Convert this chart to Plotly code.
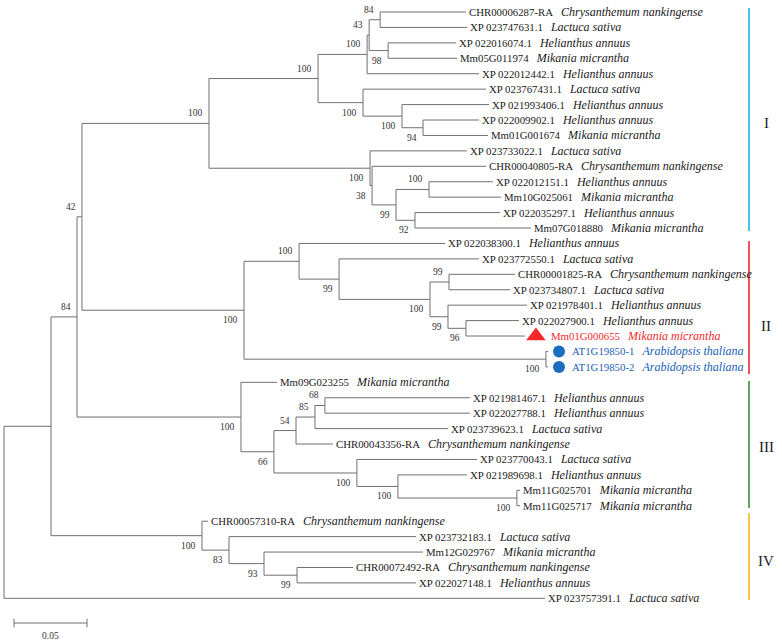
import plotly.graph_objects as go

# ---------------- data ----------------
leaf_ids = [
    "CHR00006287-RA", "XP 023747631.1", "XP 022016074.1", "Mm05G011974", "XP 022012442.1",
    "XP 023767431.1", "XP 021993406.1", "XP 022009902.1", "Mm01G001674", "XP 023733022.1",
    "CHR00040805-RA", "XP 022012151.1", "Mm10G025061", "XP 022035297.1", "Mm07G018880",
    "XP 022038300.1", "XP 023772550.1", "CHR00001825-RA", "XP 023734807.1", "XP 021978401.1",
    "XP 022027900.1", "Mm01G000655", "AT1G19850-1", "AT1G19850-2", "Mm09G023255",
    "XP 021981467.1", "XP 022027788.1", "XP 023739623.1", "CHR00043356-RA", "XP 023770043.1",
    "XP 021989698.1", "Mm11G025701", "Mm11G025717", "CHR00057310-RA", "XP 023732183.1",
    "Mm12G029767", "CHR00072492-RA", "XP 022027148.1", "XP 023757391.1",
]
CN, LS, HA, MM, AT = ("Chrysanthemum nankingense", "Lactuca sativa", "Helianthus annuus",
                      "Mikania micrantha", "Arabidopsis thaliana")
leaf_species = [
    CN, LS, HA, MM, HA, LS, HA, HA, MM, LS,
    CN, HA, MM, HA, MM, HA, LS, CN, LS, HA,
    HA, MM, AT, AT, MM, HA, HA, LS, CN, LS,
    HA, MM, MM, CN, LS, MM, CN, HA, LS,
]
leaf_parent = [
    "A", "A", "C", "C", "D", "F", "G", "H", "H", "J",
    "K", "M", "M", "N", "N", "R", "S", "U", "U", "V",
    "W", "W", "X", "X", "AA", "FF", "FF", "EE", "CC", "DD",
    "GG", "HH", "HH", "II", "JJ", "KK", "LL", "LL", "root",
]
leaf_branch = [
    0.0589, 0.0596, 0.0466, 0.0473, 0.0767, 0.0842, 0.0596, 0.0384, 0.0445, 0.0664,
    0.0781, 0.0438, 0.0493, 0.0582, 0.0795, 0.1000, 0.0959, 0.0452, 0.0418, 0.0541,
    0.0363, 0.0404, 0.0014, 0.0014, 0.0247, 0.0993, 0.0993, 0.0911, 0.0253, 0.0822,
    0.0473, 0.0021, 0.0021, 0.0041, 0.1281, 0.1089, 0.0384, 0.0815, 0.3705,
]

node_names = ["root", "Z", "Q", "O", "I", "E", "D", "B", "A", "C", "F", "G", "H", "J", "K",
              "L", "M", "N", "P", "R", "S", "T", "U", "V", "W", "X", "AA", "BB", "CC", "EE",
              "FF", "DD", "GG", "HH", "II", "JJ", "KK", "LL"]
node_parent = [None, "root", "Z", "Q", "O", "I", "E", "D", "B", "B", "E", "F", "G", "I", "J",
               "K", "L", "L", "O", "P", "R", "S", "T", "T", "V", "P", "Q", "AA", "BB", "CC",
               "EE", "BB", "DD", "GG", "Z", "II", "JJ", "KK"]
node_branch = [0.0, 0.0322, 0.0178, 0.0034, 0.0870, 0.0747, 0.0336, 0.0014, 0.0075, 0.0130,
               0.0308, 0.0267, 0.0144, 0.1103, 0.0014, 0.0164, 0.0226, 0.0130, 0.1110, 0.0377,
               0.0274, 0.0623, 0.0130, 0.0123, 0.0123, 0.2068, 0.1123, 0.0226, 0.0151, 0.0130,
               0.0068, 0.0568, 0.0281, 0.0815, 0.1034, 0.0185, 0.0240, 0.0226]
node_bootstrap = [None, None, 84, 42, 100, 100, 100, 43, 84, 98, 100, 100, 94, 100, 38,
                  99, 100, 92, 100, 100, 99, 100, 99, 99, 96, 100, 100, 66, 54, 85,
                  68, 100, 100, 100, 100, 83, 93, 99]
bootstrap_side = [None, None, "up", "up", "up", "up", "up", "up", "up", "dn", "dn", "dn", "dn",
                  "dn", "dn", "dn", "up", "dn", "dn", "up", "dn", "dn", "up", "dn", "dn", "dn",
                  "dn", "dn", "up", "up", "up", "dn", "dn", "dn", "dn", "dn", "dn", "dn"]

clade_names = ["I", "II", "III", "IV"]
clade_start = [-0.26, 14.84, 23.91, 32.47]
clade_end = [14.19, 23.46, 32.15, 38.10]
clade_label_y = [7.19, 20.35, 28.20, 35.58]
clade_colors = ["#1fb0e6", "#f2262c", "#3a8c3a", "#f7b51c"]

scale_length = 0.05

# ---------------- layout constants ----------------
PX_PER_UNIT = 1460.0
ROW_PX = 15.43
W, H = 782, 642
X0_PX, Y0_PX = 4, 12
LINE_COLOR = "#707070"
RED, BLUE, DOT_BLUE = "#f42a2a", "#2160b3", "#1b6dbd"
FONT = "Liberation Serif, Times New Roman, serif"

def px(p):
    return p / PX_PER_UNIT

# ---------------- tree geometry ----------------
children = {n: [] for n in node_names}
for n, p in zip(node_names, node_parent):
    if p is not None:
        children[p].append(("node", n))
for i, p in enumerate(leaf_parent):
    children[p].append(("leaf", i))

nb = dict(zip(node_names, node_branch))
np_ = dict(zip(node_names, node_parent))
node_x = {}

def nx(n):
    if n not in node_x:
        node_x[n] = 0.0 if np_[n] is None else nx(np_[n]) + nb[n]
    return node_x[n]

for n in node_names:
    nx(n)
leaf_x = [node_x[p] + b for p, b in zip(leaf_parent, leaf_branch)]
leaf_y = list(range(len(leaf_ids)))
node_y = {}

def ny(n):
    if n not in node_y:
        ys = [ny(c) if k == "node" else leaf_y[c] for k, c in children[n]]
        node_y[n] = (min(ys) + max(ys)) / 2
    return node_y[n]

for n in node_names:
    ny(n)

xs, ys = [], []
for n in node_names:
    cy = []
    for k, c in children[n]:
        if k == "node":
            xe, ye = node_x[c], node_y[c]
        else:
            xe, ye = leaf_x[c], leaf_y[c]
        xs += [node_x[n], xe, None]
        ys += [ye, ye, None]
        cy.append(ye)
    xs += [node_x[n], node_x[n], None]
    ys += [min(cy), max(cy), None]

fig = go.Figure()
fig.add_trace(go.Scatter(x=xs, y=ys, mode="lines", line=dict(color=LINE_COLOR, width=1),
                         hoverinfo="skip", showlegend=False))

# markers
tri = [i for i, s in enumerate(leaf_ids) if s == "Mm01G000655"]
dots = [i for i, s in enumerate(leaf_species) if s == AT]
fig.add_trace(go.Scatter(x=[leaf_x[i] + px(11) for i in tri], y=[leaf_y[i] for i in tri],
                         mode="markers", marker=dict(symbol="triangle-up", size=17, color=RED),
                         hoverinfo="skip", showlegend=False))
fig.add_trace(go.Scatter(x=[leaf_x[i] + px(11) for i in dots], y=[leaf_y[i] for i in dots],
                         mode="markers", marker=dict(symbol="circle", size=12, color=DOT_BLUE),
                         hoverinfo="skip", showlegend=False))

ann = []
for i, (lid, sp) in enumerate(zip(leaf_ids, leaf_species)):
    if i in tri:
        col, shift = RED, 24
    elif i in dots:
        col, shift = BLUE, 22
    else:
        col, shift = "#1a1a1a", 1
    txt = f"{lid}&nbsp;&nbsp;&nbsp;<span style='font-size:12px'><i>{sp}</i></span>"
    ann.append(dict(x=leaf_x[i], y=leaf_y[i], text=txt, showarrow=False, xanchor="left",
                    align="left", yanchor="middle", xshift=shift, yshift=0,
                    font=dict(family=FONT, size=10.8, color=col)))

for n, bs, side in zip(node_names, node_bootstrap, bootstrap_side):
    if bs is None:
        continue
    ann.append(dict(x=node_x[n], y=node_y[n], text=str(bs), showarrow=False, xanchor="right",
                    yanchor="middle", xshift=-4, yshift=(10 if side == "up" else -10),
                    font=dict(family=FONT, size=9.5, color="#333333")))

bar_x = px(745)
for name, s, e, ly, col in zip(clade_names, clade_start, clade_end, clade_label_y, clade_colors):
    fig.add_trace(go.Scatter(x=[bar_x, bar_x], y=[s, e], mode="lines",
                             line=dict(color=col, width=1.6), hoverinfo="skip", showlegend=False))
    ann.append(dict(x=px(762), y=ly, text=name, showarrow=False, xanchor="center",
                    yanchor="middle", font=dict(family=FONT, size=15, color="#222222")))

# scale bar
sb_x0 = px(10)
sb_y = (623 - Y0_PX) / ROW_PX
tick = 0.28
fig.add_trace(go.Scatter(
    x=[sb_x0, sb_x0 + scale_length, None, sb_x0, sb_x0, None, sb_x0 + scale_length, sb_x0 + scale_length],
    y=[sb_y, sb_y, None, sb_y - tick, sb_y + tick, None, sb_y - tick, sb_y + tick],
    mode="lines", line=dict(color=LINE_COLOR, width=1), hoverinfo="skip", showlegend=False))
ann.append(dict(x=sb_x0 + scale_length / 2, y=sb_y, text=f"{scale_length:.2f}", showarrow=False,
                xanchor="center", yanchor="middle", yshift=-13,
                font=dict(family=FONT, size=9.5, color="#333333")))

fig.update_layout(
    width=W, height=H, margin=dict(l=0, r=0, t=0, b=0),
    paper_bgcolor="white", plot_bgcolor="white",
    xaxis=dict(range=[px(-X0_PX), px(W - X0_PX)], visible=False, fixedrange=True),
    yaxis=dict(range=[(H - Y0_PX) / ROW_PX, -Y0_PX / ROW_PX], visible=False, fixedrange=True),
    annotations=ann, showlegend=False,
)
fig.write_html("out.html", config={"displayModeBar": False},
               post_script="document.body.style.margin='0px';document.body.style.overflow='hidden';")
